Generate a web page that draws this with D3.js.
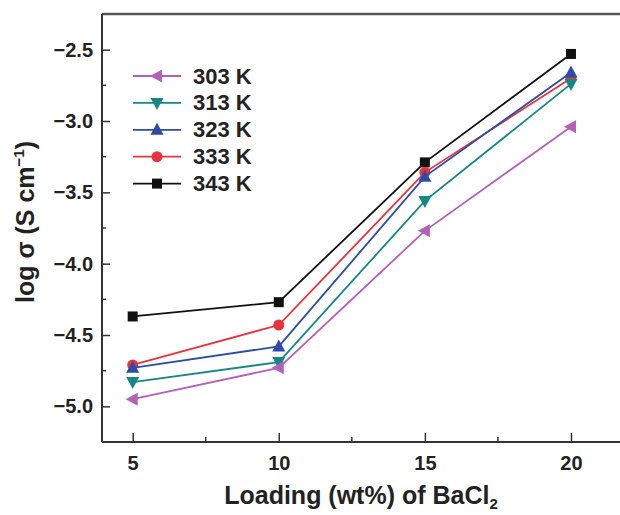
<!DOCTYPE html>
<html>
<head>
<meta charset="utf-8">
<script src="https://cdn.jsdelivr.net/npm/d3@7"></script>
<style>
  body { margin: 0; background: #fff; }
  svg { display: block; font-family: "Liberation Sans", Arial, sans-serif; font-weight: bold; }
</style>
</head>
<body>
<div id="chart"></div>
<script>
// data
var loading = [5, 10, 15, 20];
var k303 = [-4.95, -4.73, -3.77, -3.04];
var k313 = [-4.83, -4.69, -3.56, -2.74];
var k323 = [-4.73, -4.58, -3.39, -2.66];
var k333 = [-4.71, -4.43, -3.36, -2.70];
var k343 = [-4.37, -4.27, -3.29, -2.53];
var seriesNames = ["303 K", "313 K", "323 K", "333 K", "343 K"];
var xTicks = [5, 10, 15, 20];
var yTicks = [-5.0, -4.5, -4.0, -3.5, -3.0, -2.5];

var series = [
    { name: seriesNames[0], values: k303, color: "#b45fb8", marker: "left" },
    { name: seriesNames[1], values: k313, color: "#168787", marker: "down" },
    { name: seriesNames[2], values: k323, color: "#2c4ca6", marker: "up" },
    { name: seriesNames[3], values: k333, color: "#e8333c", marker: "circle" },
    { name: seriesNames[4], values: k343, color: "#111111", marker: "square" }
];

var W = 620, H = 515;
var plotLeft = 102, plotTop = 14, plotBottom = 442;

var svg = d3.select("#chart").append("svg")
    .attr("width", W)
    .attr("height", H);

var x = d3.scaleLinear().domain([3.95, 22]).range([plotLeft, plotLeft + 18.05 * 29.22]);
var y = d3.scaleLinear().domain([-5.25, -2.25]).range([plotBottom, plotTop]);

// marker shapes
function drawMarker(g, type, color) {
    if (type == "circle") {
        g.append("circle").attr("r", 5.5).attr("fill", color);
    } else if (type == "square") {
        g.append("rect").attr("x", -5).attr("y", -5).attr("width", 10).attr("height", 10).attr("fill", color);
    } else {
        var pts;
        if (type == "up") pts = "0,-7 6.5,5 -6.5,5";
        if (type == "down") pts = "0,7 6.5,-5 -6.5,-5";
        if (type == "left") pts = "-7,0 5,-6.5 5,6.5";
        g.append("polygon").attr("points", pts).attr("fill", color);
    }
}

// frame: top border, left and bottom axes
svg.append("line").attr("x1", plotLeft).attr("x2", W).attr("y1", plotTop).attr("y2", plotTop)
    .attr("stroke", "#555").attr("stroke-width", 2.5);

var xAxis = d3.axisBottom(x).tickValues(xTicks).tickSize(-9).tickPadding(14).tickFormat(d3.format("d"));
var gx = svg.append("g").attr("transform", "translate(0," + plotBottom + ")").call(xAxis);
gx.select(".domain").attr("d", "M" + plotLeft + ",0H" + W).attr("stroke", "#333").attr("stroke-width", 2);

var yAxis = d3.axisLeft(y).tickValues(yTicks).tickSize(-8).tickPadding(9).tickFormat(d3.format(".1f"));
var gy = svg.append("g").attr("transform", "translate(" + plotLeft + ",0)").call(yAxis);
gy.select(".domain").attr("d", "M0," + plotTop + "V" + plotBottom).attr("stroke", "#333").attr("stroke-width", 2);

[gx, gy].forEach(function (g) {
    g.selectAll(".tick line").attr("stroke", "#333").attr("stroke-width", 1.5);
    g.selectAll(".tick text").attr("fill", "#222").style("font-size", "20px").style("font-weight", "bold")
        .style("font-family", "'Liberation Sans', Arial, sans-serif");
});

// minor ticks
var xMinor = [7.5, 12.5, 17.5];
svg.selectAll(".xminor").data(xMinor).enter().append("line")
    .attr("x1", function (d) { return x(d); }).attr("x2", function (d) { return x(d); })
    .attr("y1", plotBottom).attr("y2", plotBottom - 5)
    .attr("stroke", "#333").attr("stroke-width", 1.5);
var yMinor = [-4.75, -4.25, -3.75, -3.25, -2.75];
svg.selectAll(".yminor").data(yMinor).enter().append("line")
    .attr("y1", function (d) { return y(d); }).attr("y2", function (d) { return y(d); })
    .attr("x1", plotLeft).attr("x2", plotLeft + 4)
    .attr("stroke", "#333").attr("stroke-width", 1.5);

// lines and markers, 343 K first so the lower series sit on top
var line = d3.line()
    .x(function (d, i) { return x(loading[i]); })
    .y(function (d) { return y(d); });

series.slice().reverse().forEach(function (s) {
    svg.append("path").datum(s.values)
        .attr("d", line)
        .attr("fill", "none")
        .attr("stroke", s.color)
        .attr("stroke-width", 1.8);
    s.values.forEach(function (v, i) {
        var g = svg.append("g").attr("transform", "translate(" + x(loading[i]) + "," + y(v) + ")");
        drawMarker(g, s.marker, s.color);
    });
});

// legend
var legend = svg.append("g").attr("transform", "translate(133,76)");
series.forEach(function (s, i) {
    var row = legend.append("g").attr("transform", "translate(0," + (i * 26.9) + ")");
    row.append("line").attr("x1", 0).attr("x2", 48).attr("y1", 0).attr("y2", 0)
        .attr("stroke", s.color).attr("stroke-width", 1.8);
    var m = row.append("g").attr("transform", "translate(24,0)");
    drawMarker(m, s.marker, s.color);
    row.append("text").attr("x", 60).attr("y", 7.5)
        .attr("fill", "#222").style("font-size", "22px")
        .text(s.name);
});

// axis titles
var xt = svg.append("text").attr("x", 361).attr("y", 504)
    .attr("text-anchor", "middle").attr("fill", "#222").style("font-size", "25px");
xt.append("tspan").text("Loading (wt%) of BaCl");
xt.append("tspan").attr("dy", 5).style("font-size", "15px").text("2");

var yt = svg.append("text").attr("transform", "translate(34,222) rotate(-90)")
    .attr("text-anchor", "middle").attr("fill", "#222").style("font-size", "25px");
yt.append("tspan").text("log ");
yt.append("tspan").style("font-weight", "bold").text("σ");
yt.append("tspan").text(" (S cm");
yt.append("tspan").attr("dy", -10).style("font-size", "15px").text("−1");
yt.append("tspan").attr("dy", 10).text(")");
</script>
</body>
</html>
